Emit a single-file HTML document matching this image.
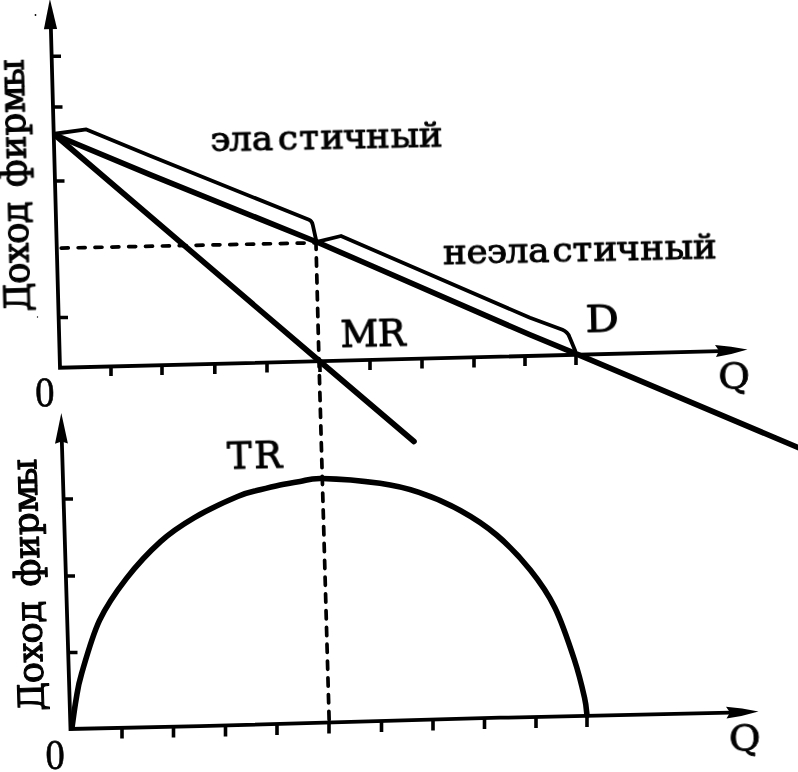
<!DOCTYPE html>
<html lang="ru">
<head>
<meta charset="utf-8">
<title>Доход фирмы: D, MR, TR</title>
<style>
html,body{margin:0;padding:0;background:#fff;}
body{width:798px;height:772px;overflow:hidden;}
svg{display:block;}
text{fill:#000;stroke:#000;stroke-linejoin:round;}
.ax{stroke:#000;stroke-width:3.8;fill:none;stroke-linecap:butt;stroke-linejoin:miter;}
.tk{stroke:#000;stroke-width:3.6;fill:none;}
.thick{stroke:#000;stroke-width:5.6;fill:none;stroke-linecap:round;stroke-linejoin:round;}
.thin{stroke:#000;stroke-width:3.8;fill:none;stroke-linejoin:round;}
.dash{stroke:#000;stroke-width:3.7;fill:none;stroke-linecap:round;}
.dh{stroke-dasharray:7 9.85;}
.dv{stroke-dasharray:8.3 8.5;stroke-dashoffset:2.85;}
</style>
</head>
<body>
<svg width="798" height="772" viewBox="0 0 798 772">
<rect x="0" y="0" width="798" height="772" fill="#fff"/>

<!-- ===== top graph axes ===== -->
<path class="ax" d="M50.8 25 L60 367.7 L720 351.2"/>
<polygon points="49.9,-1 43.9,29.3 57.1,29" fill="#000"/>
<path d="M747.5 349.6 Q731 346 715 345 L719 350.7 L716 357 Q732 354.6 747.5 349.6 Z" fill="#000"/>
<!-- y ticks -->
<path class="tk" d="M52 56.2 h9 M53.5 107 h9 M55.5 181 h9 M59 317.5 h9"/>
<!-- x ticks -->
<path class="tk" d="M111 366 v10 M162 365 v10 M214.8 364 v10 M267 362.5 v10 M320 361 v11 M370 360 v10 M422 358.5 v10 M474 357.5 v10 M525 356 v10 M576 355 v10"/>

<!-- dashed guides -->
<path class="dash dh" d="M61.3 248.1 L317 242.8"/>
<path class="dash dv" d="M316 244 L319 362 L329.3 726"/>

<!-- thin bracket lines -->
<path class="thin" d="M53 134 L86.3 129.4 L150 155.8 L309 219.8 Q312 221 312.8 225 L316.3 241"/>
<path class="thin" d="M317 241.8 L341 236 L530 317.8 L562.5 329.8 Q567.5 331.8 569.5 337 L575.5 351.5"/>

<!-- D and MR -->
<path class="thick" d="M55 135 L150 174.6 L318 242.5 L360 260.8 L530 334.8 L577.5 354.3 L798 447.5"/>
<path class="thick" d="M55 135 L320 361.5 L414 441.5"/>

<!-- ===== bottom graph axes ===== -->
<path class="ax" d="M61.8 440 L70.5 729 L200 726.2 L500 717.7 L730 712.7"/>
<polygon points="61.3,413 55,443.8 61.6,441.5 67.9,443.4" fill="#000"/>
<path d="M758.5 711.6 Q742 708 726 706.8 L730 712.6 L726.5 718.5 Q743 716.4 758.5 711.6 Z" fill="#000"/>
<path class="tk" d="M64 499 h9 M66 576 h9 M68.5 652.5 h9"/>
<path class="tk" d="M122 727.5 v11 M173.5 726.5 v11 M225.5 725.5 v11 M277 724 v11 M329 722.5 v11 M381.5 721 v11 M433 719.5 v11 M484.5 718 v11 M536 717 v11 M587 716 v11"/>

<!-- TR curve -->
<path class="thick" d="M72.0 727.5 C72.7 722.9 74.4 709.0 76.0 700.0 C77.6 691.0 77.7 686.8 81.6 673.6 C85.5 660.4 92.0 636.4 99.4 620.6 C106.9 604.8 116.1 591.8 126.3 578.6 C136.5 565.4 149.2 551.8 160.5 541.6 C171.8 531.4 181.6 525.1 194.4 517.6 C207.2 510.1 226.7 501.1 237.6 496.5 C248.5 491.9 252.9 491.7 260.0 489.8 C267.1 487.9 273.3 486.3 280.0 484.9 C286.7 483.5 293.0 482.5 300.0 481.4 C307.0 480.3 308.7 478.2 322.0 478.5 C335.3 478.8 363.8 481.0 380.0 483.3 C396.2 485.6 405.6 487.9 419.0 492.4 C432.4 496.9 447.4 503.4 460.3 510.5 C473.2 517.6 484.9 525.1 496.6 535.0 C508.3 544.9 520.6 557.9 530.3 570.0 C540.0 582.1 547.6 592.8 554.9 607.7 C562.2 622.6 569.4 644.5 574.3 659.5 C579.2 674.5 582.4 688.2 584.5 697.5 C586.6 706.8 586.6 712.5 587.0 715.5"/>

<circle cx="35.5" cy="15" r="0.9"/><circle cx="37.5" cy="317" r="0.7"/>
<!-- ===== labels ===== -->
<g opacity="0.999">
<text transform="translate(29.9,309.6) rotate(-91.50) scale(1.000,1.000)" font-family='"DejaVu Serif","Liberation Serif",serif' font-size="35.5" stroke-width="1.10" x="-1.7 26.0 47.1 65.9 86.6 108.4 122.8 150.8 174.5 197.1 222.4">Доход фирмы</text>
<text transform="translate(44.0,709.1) rotate(-91.80) scale(1.000,1.000)" font-family='"DejaVu Serif","Liberation Serif",serif' font-size="35.5" stroke-width="1.10" x="-1.7 26.0 47.1 65.9 86.6 108.4 122.8 150.8 174.5 197.1 222.4">Доход фирмы</text>
<text transform="translate(212.8,151.2) rotate(-1.20) scale(1.050,1.000)" font-family='"DejaVu Serif","Liberation Serif",serif' font-size="34.0" stroke-width="1.00" x="-2.1 15.8 37.5 62.1 82.4 102.7 124.4 146.2 169.6 196.4">эластичный</text>
<text transform="translate(443.3,264.2) rotate(-1.26) scale(1.050,1.000)" font-family='"DejaVu Serif","Liberation Serif",serif' font-size="34.0" stroke-width="1.00" x="-0.2 22.2 41.7 59.7 81.0 104.2 123.2 143.2 164.8 187.7 211.1 238.0">неэластичный</text>
<text transform="translate(341.0,347.0) rotate(-1.30) scale(1.000,1.000)" font-family='"DejaVu Serif","Liberation Serif",serif' font-size="37.0" stroke-width="1.00" x="-0.2 36.9">MR</text>
<text transform="translate(587.7,332.0) rotate(-1.30) scale(1.120,1.000)" font-family='"DejaVu Serif","Liberation Serif",serif' font-size="37.0" stroke-width="1.00" x="-1.6">D</text>
<text transform="translate(226.9,468.8) rotate(-1.30) scale(1.000,1.000)" font-family='"DejaVu Serif","Liberation Serif",serif' font-size="37.0" stroke-width="1.00" x="0.4 27.4">TR</text>
<text transform="translate(720.3,388.5) rotate(-1.30) scale(1.070,1.000)" font-family='"DejaVu Serif","Liberation Serif",serif' font-size="36.0" stroke-width="0.90" x="-1.5">Q</text>
<text transform="translate(731.0,750.5) rotate(-1.30) scale(1.070,1.000)" font-family='"DejaVu Serif","Liberation Serif",serif' font-size="36.0" stroke-width="0.90" x="-1.7">Q</text>
<text transform="translate(36.6,406.5) rotate(-1.30) scale(0.920,1.000)" font-family='"Liberation Serif","DejaVu Serif",serif' font-size="42.0" stroke-width="0.60" x="-1.3">0</text>
<text transform="translate(46.9,769.0) rotate(-1.30) scale(0.920,1.000)" font-family='"Liberation Serif","DejaVu Serif",serif' font-size="42.0" stroke-width="0.60" x="-1.2">0</text>
</g>
</svg>
</body>
</html>
